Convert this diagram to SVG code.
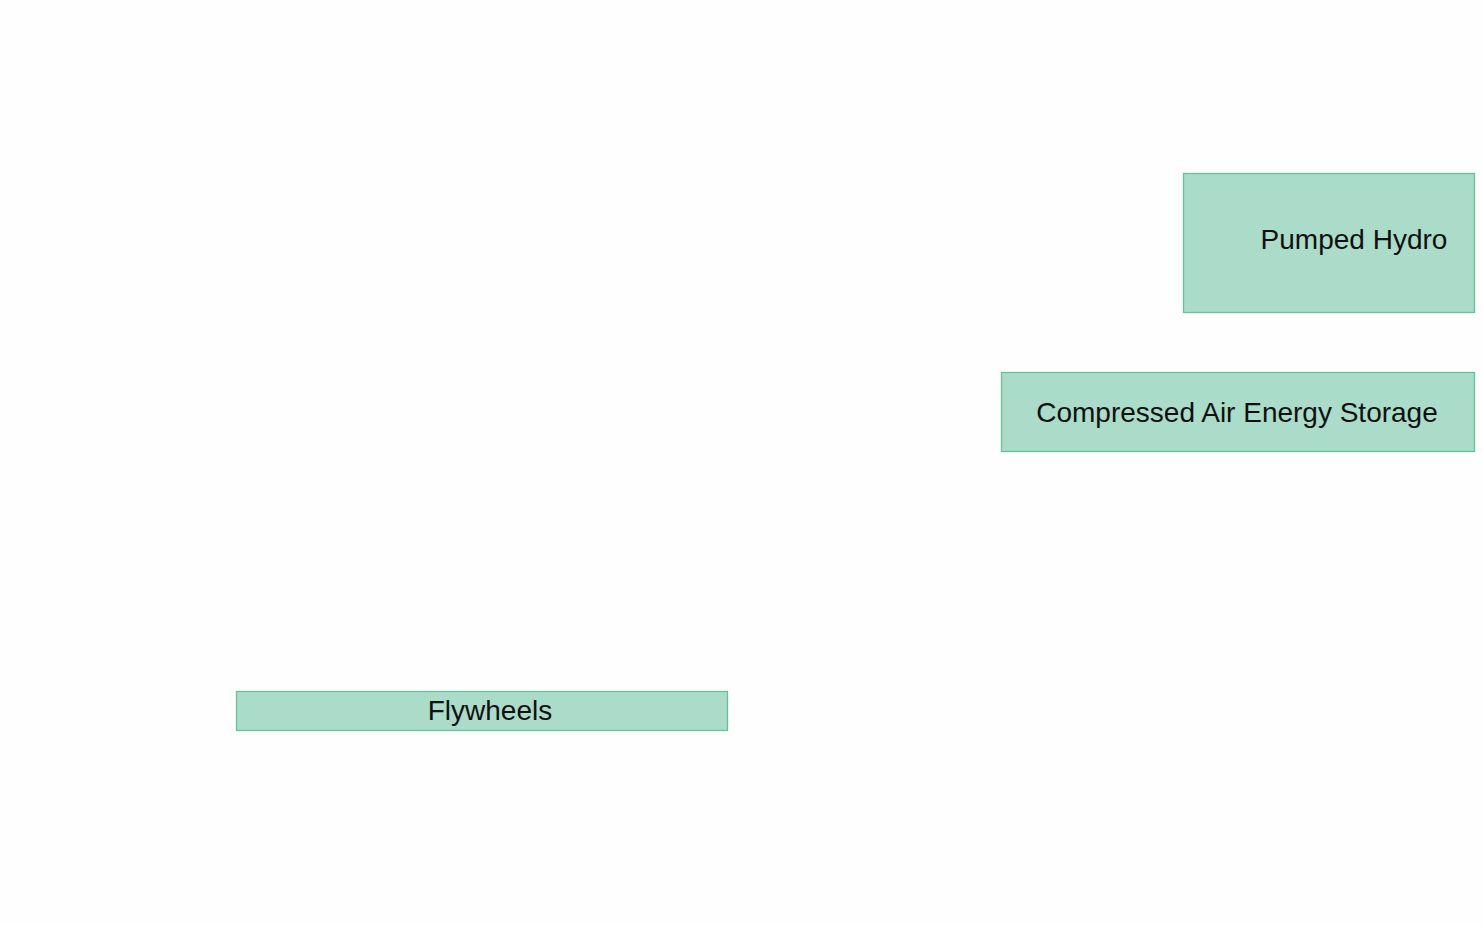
<svg xmlns="http://www.w3.org/2000/svg" width="1483" height="925" viewBox="0 0 1483 925">
<style>
.node rect{fill:#abdbc9;stroke:#66c29b;stroke-width:1.3}
.node text{font-family:"Liberation Sans",Arial,sans-serif;font-size:28px;fill:#111;text-anchor:middle}
</style>
<rect width="1483" height="925" fill="#fefefe"/>
<g id="connectors"></g>
<g id="pumped-hydro" class="node"><rect x="1183.5" y="173.5" width="291" height="139"/><text x="1354" y="249">Pumped Hydro</text></g>
<g id="caes" class="node"><rect x="1001.5" y="372.5" width="473" height="79"/><text x="1237" y="422">Compressed Air Energy Storage</text></g>
<g id="flywheels" class="node"><rect x="236.5" y="691.5" width="491" height="39"/><text x="490" y="720">Flywheels</text></g>
</svg>
